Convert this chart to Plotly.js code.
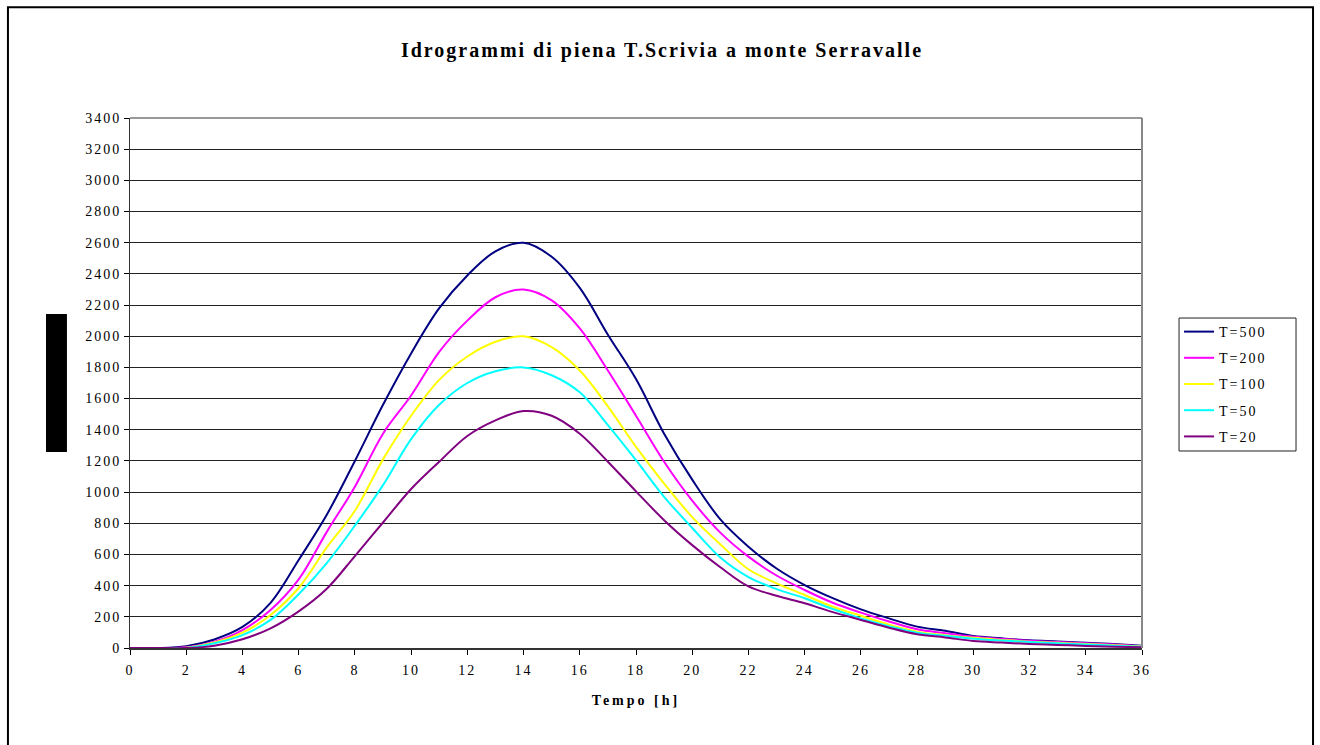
<!DOCTYPE html>
<html>
<head>
<meta charset="utf-8">
<script src="https://cdn.plot.ly/plotly-3.0.1.min.js"></script>
<style>
html,body{margin:0;padding:0;background:#fff;}
#chart{width:1320px;height:745px;}
#chart .xtick text, #chart .ytick text { letter-spacing: 2px; }
#chart .gtitle { letter-spacing: 2px; }
#chart .xtitle { letter-spacing: 3px; }
.legendtext { letter-spacing: 2px; }
</style>
</head>
<body>
<div id="chart"></div>
<script>
const hours = [0,1,2,3,4,5,6,7,8,9,10,11,12,13,14,15,16,17,18,19,20,21,22,23,24,25,26,27,28,29,30,31,32,33,34,35,36];
const q500 = [0,0,12,55,135,290,565,855,1200,1560,1890,2180,2390,2545,2600,2510,2310,2010,1725,1375,1080,825,650,510,404,320,248,190,137,110,77,62,49,42,34,25,15];
const q200 = [0,0,5,40,115,244,440,745,1035,1375,1620,1900,2100,2250,2300,2230,2050,1780,1490,1195,945,740,586,465,372,290,227,170,120,95,72,58,46,38,30,22,12];
const q100 = [0,0,2,35,98,212,385,645,880,1210,1490,1720,1870,1965,2000,1930,1780,1550,1290,1055,840,665,505,415,340,265,207,150,105,82,65,52,40,33,26,18,10];
const q50  = [0,0,0,30,83,180,345,545,785,1045,1340,1560,1700,1775,1800,1750,1640,1430,1205,970,770,580,455,378,319,250,190,140,98,78,60,48,38,30,22,15,8];
const q20  = [0,0,0,15,56,126,235,380,590,805,1020,1195,1360,1460,1520,1490,1375,1195,1005,820,660,518,395,335,287,230,180,130,88,68,45,35,26,20,13,8,5];

const seriesNames = ["T=500","T=200","T=100","T=50","T=20"];
const seriesData = [q500,q200,q100,q50,q20];
const seriesColors = ["#000080","#FF00FF","#FFFF00","#00FFFF","#800080"];

const traces = seriesData.map((d,i)=>({
  x: hours, y: d, name: seriesNames[i], type: "scatter", mode: "lines",
  legendgroup: "g"+i,
  line: {color: seriesColors[i], width: 2, shape: "spline", smoothing: 1.0}
}));

const serif = "Liberation Serif, Times New Roman, serif";
const layout = {
  width: 1320, height: 745,
  margin: {l:130, r:178, t:118, b:97},
  paper_bgcolor: "#fff", plot_bgcolor: "#fff",
  font: {family: serif, color: "#000", size: 14},
  title: {text: "<b>Idrogrammi di piena T.Scrivia a monte Serravalle</b>",
          font: {family: serif, size: 20, color: "#000"},
          x: 0.5015, xanchor: "center", xref: "container", y: 0.933, yanchor: "middle"},
  xaxis: {range: [0,36], dtick: 2, tick0: 0, showgrid: false, zeroline: false,
          showline: true, linecolor: "#333", linewidth: 2,
          ticks: "outside", ticklen: 5, tickcolor: "#000", tickwidth: 1,
          ticklabelstandoff: 3,
          tickfont: {family: serif, size: 14, color: "#000"},
          title: {text: "<b>Tempo [h]</b>", font: {family: serif, size: 14, color: "#000"}, standoff: 18}},
  yaxis: {range: [0,3400], dtick: 200, tick0: 0, showgrid: true, gridcolor: "#222", gridwidth: 1,
          zeroline: false, showline: true, linecolor: "#333", linewidth: 1,
          ticks: "outside", ticklen: 5, tickcolor: "#000", tickwidth: 1,
          tickfont: {family: serif, size: 14, color: "#000"}},
  showlegend: true,
  legend: {x: 1.0366, xanchor: "left", y: 0.6264, yanchor: "top",
           bgcolor: "rgba(0,0,0,0)", borderwidth: 0,
           font: {family: serif, size: 14, color: "#000"},
           traceorder: "grouped", tracegroupgap: 5},
  shapes: [
    {type: "line", xref: "paper", yref: "paper", x0: 1, x1: 1, y0: 0, y1: 1, line: {color: "#888", width: 2}},
    {type: "line", xref: "paper", yref: "paper", x0: 0, x1: 1, y0: 1, y1: 1, line: {color: "#777", width: 1.5}},
    {type: "rect", xref: "paper", yref: "paper", x0: -0.083, x1: -0.0623, y0: 0.370, y1: 0.630,
     fillcolor: "#000", line: {width: 0}},
    {type: "rect", xref: "paper", yref: "paper", x0: 1.0366, x1: 1.1522, y0: 0.3717, y1: 0.6226,
     fillcolor: "rgba(0,0,0,0)", line: {color: "#222", width: 1}},
    {type: "rect", xref: "paper", yref: "paper", x0: -0.1206, x1: 1.169, y0: -0.23, y1: 1.209,
     fillcolor: "rgba(0,0,0,0)", line: {color: "#000", width: 2}}
  ]
};

Plotly.newPlot("chart", traces, layout, {displayModeBar: false, staticPlot: true});
</script>
</body>
</html>
